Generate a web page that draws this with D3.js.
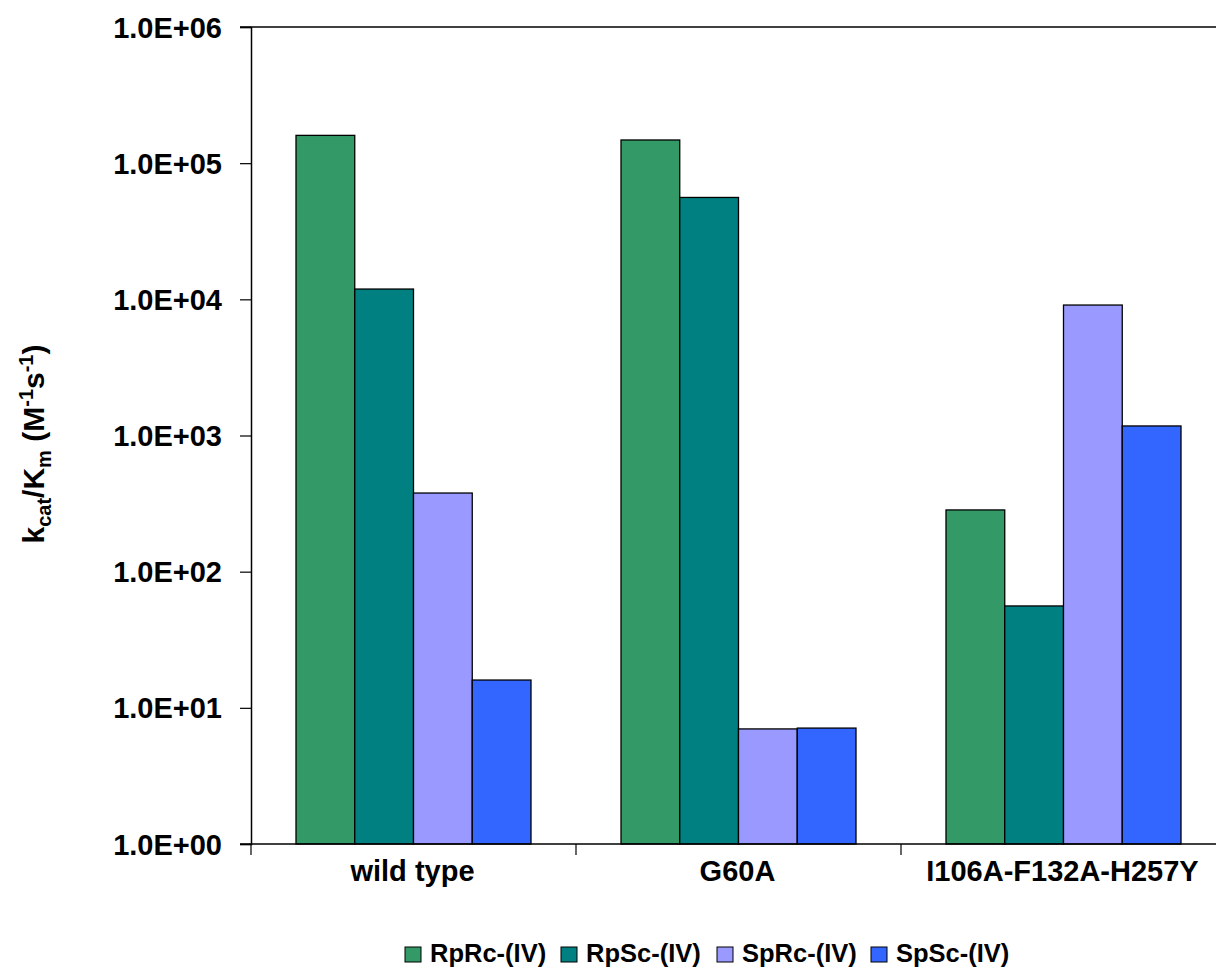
<!DOCTYPE html>
<html>
<head>
<meta charset="utf-8">
<script src="https://cdn.jsdelivr.net/npm/d3@7"></script>
<style>
  html, body { margin: 0; padding: 0; background: #fff; }
  svg text { font-family: "Liberation Sans", Arial, sans-serif; font-weight: bold; fill: #000; }
</style>
</head>
<body>
<svg id="chart" width="1216" height="972"></svg>
<script>
// data (log scale, kcat/Km in M^-1 s^-1)
var categories = ['wild type', 'G60A', 'I106A-F132A-H257Y'];
var seriesNames = ['RpRc-(IV)', 'RpSc-(IV)', 'SpRc-(IV)', 'SpSc-(IV)'];
var seriesColors = ['#339966', '#008080', '#9999ff', '#3366ff'];
var RpRc = [160000, 148000, 284];
var RpSc = [11900, 56000, 56];
var SpRc = [378, 7.0, 9080];
var SpSc = [16, 7.1, 1175];
var tickValues = [1, 10, 100, 1000, 10000, 100000, 1000000];
var tickLabels = ['1.0E+00', '1.0E+01', '1.0E+02', '1.0E+03', '1.0E+04', '1.0E+05', '1.0E+06'];

var seriesValues = [RpRc, RpSc, SpRc, SpSc];

var svg = d3.select('#chart');
var L = 251, T = 27, B = 844, bandW = 325;
var R = L + bandW * categories.length;

var y = d3.scaleLog().domain([1, 1e6]).range([B, T]);
var x = d3.scaleBand().domain(categories).range([L, R]).padding(0);
// bar group sits in the middle 235px of each 325px band
var xs = d3.scaleBand().domain(seriesNames).range([45, 45 + 235]).padding(0);

// top border line
svg.append('line').attr('x1', L - 11).attr('x2', 1216).attr('y1', T).attr('y2', T)
  .attr('stroke', '#000').attr('stroke-width', 1.5);

// bars
var rows = [];
categories.forEach(function (c, i) {
  seriesNames.forEach(function (s, j) { rows.push({ cat: c, ser: s, j: j, v: seriesValues[j][i] }); });
});
svg.append('g').selectAll('rect').data(rows).enter().append('rect')
  .attr('x', function (d) { return x(d.cat) + xs(d.ser); })
  .attr('width', xs.bandwidth())
  .attr('y', function (d) { return y(d.v); })
  .attr('height', function (d) { return B - y(d.v); })
  .attr('fill', function (d) { return seriesColors[d.j]; })
  .attr('stroke', '#000').attr('stroke-width', 1.3);

// y axis
var yAxis = d3.axisLeft(y).tickValues(tickValues)
  .tickFormat(function (d, i) { return tickLabels[i]; })
  .tickSize(11).tickPadding(18);
var gy = svg.append('g').attr('transform', 'translate(' + L + ',0)').call(yAxis);
gy.attr('font-size', null).attr('font-family', null);
gy.select('.domain').attr('stroke', '#000').attr('stroke-width', 1.5);
gy.selectAll('.tick line').attr('stroke', '#000').attr('stroke-width', 1.2);
gy.selectAll('.tick text').style('font-size', '29px').attr('dy', '0.35em');

// x axis: ticks between categories
var gx = svg.append('g').attr('transform', 'translate(0,' + B + ')');
gx.append('line').attr('x1', L - 11).attr('x2', 1216).attr('y1', 0).attr('y2', 0)
  .attr('stroke', '#000').attr('stroke-width', 1.5);
gx.selectAll('line.tk').data(categories).enter().append('line').attr('class', 'tk')
  .attr('x1', function (d) { return x(d); }).attr('x2', function (d) { return x(d); })
  .attr('y1', 0).attr('y2', 11).attr('stroke', '#000').attr('stroke-width', 1.2);
gx.selectAll('text').data(categories).enter().append('text')
  .attr('x', function (d) { return x(d) + x.bandwidth() / 2 - 1; })
  .attr('y', 37)
  .attr('text-anchor', 'middle')
  .style('font-size', '29px')
  .text(function (d) { return d; });

// y axis title
var yt = svg.append('text')
  .attr('transform', 'translate(44,444) rotate(-90)')
  .attr('text-anchor', 'middle')
  .style('font-size', '30px');
yt.append('tspan').text('k');
yt.append('tspan').attr('dy', 7).style('font-size', '20px').text('cat');
yt.append('tspan').attr('dy', -7).text('/K');
yt.append('tspan').attr('dy', 7).style('font-size', '20px').text('m');
yt.append('tspan').attr('dy', -7).text(' (M');
yt.append('tspan').attr('dy', -11).style('font-size', '20px').text('-1');
yt.append('tspan').attr('dy', 11).text('s');
yt.append('tspan').attr('dy', -11).style('font-size', '20px').text('-1');
yt.append('tspan').attr('dy', 11).text(')');

// legend
var legX = [405, 561, 717, 871];
var lg = svg.append('g').selectAll('g').data(seriesNames).enter().append('g')
  .attr('transform', function (d, i) { return 'translate(' + legX[i] + ',947)'; });
lg.append('rect').attr('width', 16).attr('height', 15)
  .attr('fill', function (d, i) { return seriesColors[i]; })
  .attr('stroke', '#000').attr('stroke-width', 1);
lg.append('text').attr('x', 25).attr('y', 15).style('font-size', '25.5px').text(function (d) { return d; });
</script>
</body>
</html>
